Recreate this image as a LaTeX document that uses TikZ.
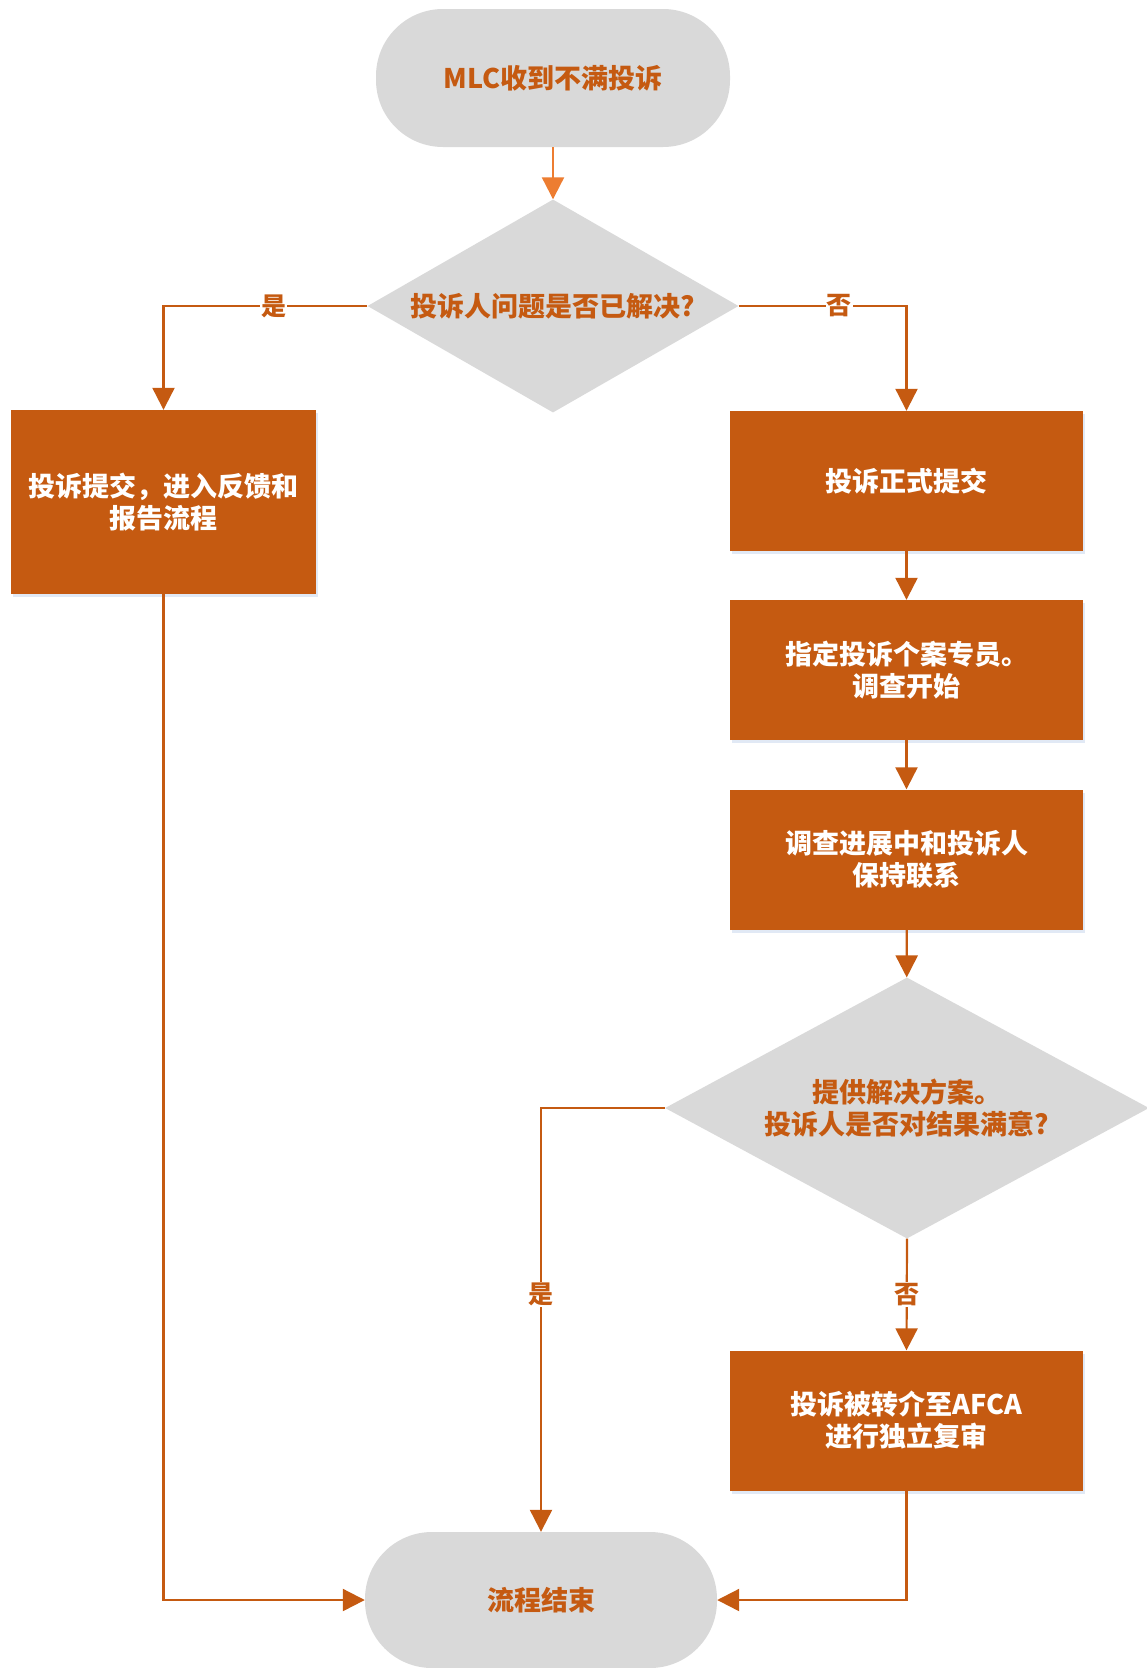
\documentclass[tikz,border=0pt]{standalone}
\usepackage{fontspec}
\setmainfont{Noto Sans CJK SC}
\usetikzlibrary{arrows.meta,shapes.geometric,shadows}
\definecolor{rust}{HTML}{C55A11}
\definecolor{lorange}{HTML}{ED7D31}
\definecolor{lgray}{HTML}{D9D9D9}
\definecolor{shade}{HTML}{DAE3F3}
\begin{document}
\begin{tikzpicture}[x=1pt,y=-1pt,
  txt/.style={font=\bfseries\fontsize{27}{32}\selectfont, align=center},
  term/.style={fill=lgray, rounded corners=67pt, inner sep=0pt, text=rust, txt},
  procbox/.style={fill=rust, text=white, txt, minimum width=353pt, minimum height=140pt, inner sep=0pt, drop shadow={shadow xshift=2pt, shadow yshift=-3pt, fill=shade, opacity=0.8}},
  decide/.style={diamond, fill=lgray, inner sep=0pt},
  dtext/.style={text=rust, txt},
  conn/.style={draw=rust, line width=2.2pt, -{Triangle[length=22pt,width=22pt]}},
  lab/.style={fill=white, text=rust, font=\bfseries\fontsize{25}{30}\selectfont, inner sep=1pt},
]
\useasboundingbox (0,0) rectangle (1146,1668);

% terminals
\node[term, minimum width=354pt, minimum height=138pt] (start) at (553,78) {MLC收到不满投诉};
\node[term, minimum width=352pt, minimum height=136pt] (finish) at (541,1600) {流程结束};

% decision 1
\node[decide, minimum width=371pt, minimum height=213pt] (d1) at (553,306) {};
\node[dtext] (d1t) at (d1) {投诉人问题是否已解决?};

% left box
\node[procbox, minimum width=305pt, minimum height=184pt] (left) at (163.5,502) {投诉提交，进入反馈和\\报告流程};

% right column
\node[procbox] (r1) at (906.5,481) {投诉正式提交};
\node[procbox] (r2) at (906.5,670) {指定投诉个案专员。\\调查开始};
\node[procbox] (r3) at (906.5,859.5) {调查进展中和投诉人\\保持联系};

% decision 2
\node[decide, minimum width=484pt, minimum height=261pt] (d2) at (907,1108) {};
\node[dtext, text=rust] (d2t) at (d2) {提供解决方案。\\投诉人是否对结果满意?};

\node[procbox] (r4) at (906.5,1420.5) {投诉被转介至AFCA\\进行独立复审};

% connectors
\draw[conn, draw=lorange] (start) -- (d1);
\draw[conn] (d1.west) -| node[lab, pos=0.23] (ly1) {是} (left.north);
\draw[conn] (d1.east) -| node[lab, pos=0.3] (ln1) {否} (r1.north);
\draw[conn] (r1) -- (r2);
\draw[conn] (r2) -- (r3);
\draw[conn] (r3) -- (d2);
\draw[conn] (d2.south) -- node[lab] (ln2) {否} (r4.north);
\draw[conn] (d2.west) -| node[lab, pos=0.72] (ly2) {是} (finish.north);
\draw[conn] (left.south) |- (finish.west);
\draw[conn] (r4.south) |- (finish.east);
\end{tikzpicture}
\end{document}
